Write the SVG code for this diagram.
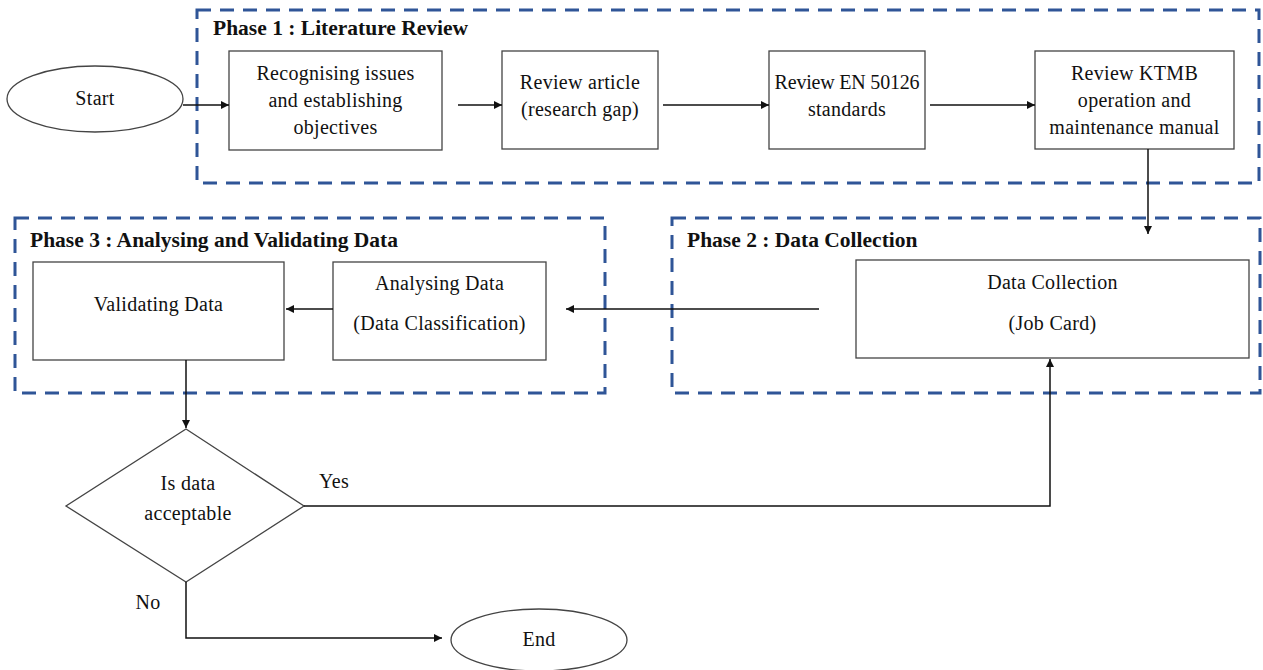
<svg xmlns="http://www.w3.org/2000/svg" width="1263" height="670" viewBox="0 0 1263 670">
<style>
.t{font-family:"Liberation Serif","DejaVu Serif",serif;font-size:20px;letter-spacing:0.3px;fill:#111;text-anchor:middle}
.n{letter-spacing:-0.2px}
.h{font-family:"Liberation Serif","DejaVu Serif",serif;font-size:21.5px;font-weight:bold;fill:#111}
.box{fill:#fff;stroke:#444;stroke-width:1.3}
.phase{fill:none;stroke:#2F5597;stroke-width:3;stroke-dasharray:14 9}
.c{fill:none;stroke:#111;stroke-width:1.5}
</style>
<defs>
<marker id="ah" viewBox="0 0 10 10" refX="10" refY="5" markerWidth="8" markerHeight="8" markerUnits="userSpaceOnUse" orient="auto">
<path d="M0,0 L10,5 L0,10 z" fill="#111"/>
</marker>
</defs>
<rect width="1263" height="670" fill="#fff"/>

<g id="phase1">
<rect class="phase" x="197" y="10" width="1062" height="173"/>
<text class="h" x="213" y="35">Phase 1 : Literature Review</text>
</g>
<g id="phase2">
<rect class="phase" x="672" y="218" width="588" height="175"/>
<text class="h" x="687" y="247">Phase 2 : Data Collection</text>
</g>
<g id="phase3">
<rect class="phase" x="15" y="218" width="590" height="175"/>
<text class="h" x="30" y="247">Phase 3 : Analysing and Validating Data</text>
</g>

<g id="start">
<ellipse cx="95" cy="99" rx="88" ry="33" fill="#fff" stroke="#444" stroke-width="1.3"/>
<text class="t" x="95" y="105">Start</text>
</g>
<g id="recognising">
<rect class="box" x="229" y="51" width="213" height="99"/>
<text class="t" x="335.5" y="80">Recognising issues</text>
<text class="t" x="335.5" y="107">and establishing</text>
<text class="t" x="335.5" y="134">objectives</text>
</g>
<g id="review-article">
<rect class="box" x="502" y="51" width="156" height="98"/>
<text class="t" x="580" y="89">Review article</text>
<text class="t" x="580" y="116">(research gap)</text>
</g>
<g id="review-en">
<rect class="box" x="769" y="51" width="156" height="98"/>
<text class="t n" x="847" y="89">Review EN 50126</text>
<text class="t" x="847" y="116">standards</text>
</g>
<g id="review-ktmb">
<rect class="box" x="1035" y="51" width="199" height="98"/>
<text class="t" x="1134.5" y="80">Review KTMB</text>
<text class="t" x="1134.5" y="107">operation and</text>
<text class="t" x="1134.5" y="134">maintenance manual</text>
</g>
<g id="data-collection">
<rect class="box" x="856" y="260" width="393" height="98"/>
<text class="t" x="1052.5" y="289">Data Collection</text>
<text class="t" x="1052.5" y="330">(Job Card)</text>
</g>
<g id="analysing">
<rect class="box" x="333" y="262" width="213" height="98"/>
<text class="t" x="439.5" y="290">Analysing Data</text>
<text class="t" x="439.5" y="330">(Data Classification)</text>
</g>
<g id="validating">
<rect class="box" x="33" y="262" width="251" height="98"/>
<text class="t" x="158.5" y="311">Validating Data</text>
</g>
<g id="decision">
<polygon points="186,429 304,506 186,582 66,506" fill="#fff" stroke="#444" stroke-width="1.3"/>
<text class="t" x="188" y="490">Is data</text>
<text class="t" x="188" y="520">acceptable</text>
</g>
<g id="end">
<ellipse cx="539" cy="640" rx="88" ry="31" fill="#fff" stroke="#444" stroke-width="1.3"/>
<text class="t" x="539" y="646">End</text>
</g>

<g id="connectors">
<line class="c" x1="183" y1="105" x2="229" y2="105" marker-end="url(#ah)"/>
<line class="c" x1="458" y1="105" x2="502" y2="105" marker-end="url(#ah)"/>
<line class="c" x1="663" y1="105" x2="769" y2="105" marker-end="url(#ah)"/>
<line class="c" x1="930" y1="105" x2="1035" y2="105" marker-end="url(#ah)"/>
<line class="c" x1="1148" y1="149" x2="1148" y2="234" marker-end="url(#ah)"/>
<line class="c" x1="819" y1="309" x2="566" y2="309" marker-end="url(#ah)"/>
<line class="c" x1="333" y1="309" x2="286" y2="309" marker-end="url(#ah)"/>
<line class="c" x1="186" y1="360" x2="186" y2="428" marker-end="url(#ah)"/>
<polyline class="c" points="304,506 1050,506 1050,359" marker-end="url(#ah)"/>
<polyline class="c" points="186,582 186,638 442,638" marker-end="url(#ah)"/>
<text class="t" x="334" y="488">Yes</text>
<text class="t" x="148" y="609">No</text>
</g>
</svg>
